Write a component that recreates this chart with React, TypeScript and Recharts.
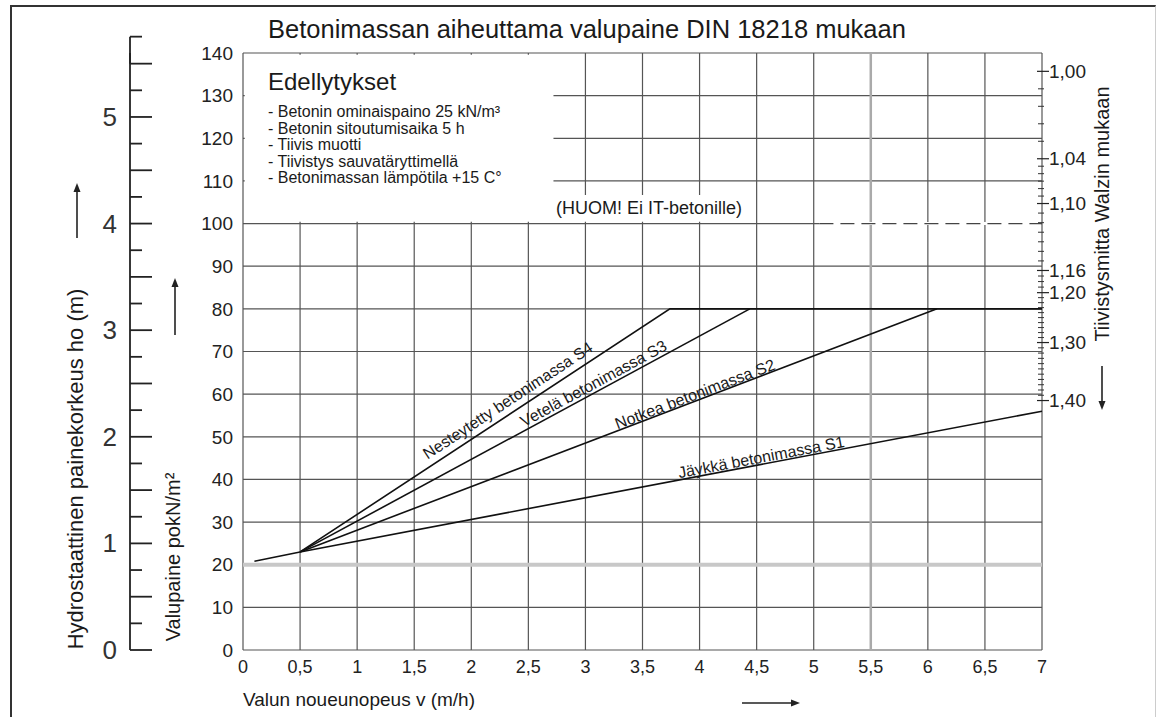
import { LineChart, Line, XAxis, YAxis, CartesianGrid, ReferenceArea, ReferenceLine, ReferenceDot } from 'recharts';

const FONT = '"Liberation Sans", Arial, sans-serif';

// x-akseli: valun nousunopeus (m/h)
const speedTicks = [0, 0.5, 1, 1.5, 2, 2.5, 3, 3.5, 4, 4.5, 5, 5.5, 6, 6.5, 7];
const speedLabels = ['0', '0,5', '1', '1,5', '2', '2,5', '3', '3,5', '4', '4,5', '5', '5,5', '6', '6,5', '7'];

// y-akseli: valupaine kN/m2
const pressureTicks = [0, 10, 20, 30, 40, 50, 60, 70, 80, 90, 100, 110, 120, 130, 140];

// hydrostaattinen painekorkeus (m), 25 kN/m3 -> 140 kN/m2 = 5,6 m
const heightTicks = [0, 0.25, 0.5, 0.75, 1, 1.25, 1.5, 1.75, 2, 2.25, 2.5, 2.75, 3, 3.25, 3.5, 3.75, 4, 4.25, 4.5, 4.75, 5, 5.25, 5.5];

// Walzin tiivistysmitta (oikea asteikko), sijainti painearvona
const walzLabels = ['1,00', '1,04', '1,10', '1,16', '1,20', '1,30', '1,40'];
const walzAt = [135.7, 115.2, 104.7, 89, 83.8, 72.1, 58.5];
const walzMinorCount = [4, 5, 6, 3, 9, 10];

// käyrät
const baseSpeed = [0.1, 0.5];
const basePressure = [20.8, 23];
const s1Speed = [0.5, 7];
const s1Pressure = [23, 56];
const s2Speed = [0.5, 6.08];
const s2Pressure = [23, 80];
const s3Speed = [0.5, 4.44];
const s3Pressure = [23, 80];
const s4Speed = [0.5, 3.74, 7];
const s4Pressure = [23, 80, 80];

const seriesNames = ['Jäykkä betonimassa S1', 'Notkea betonimassa S2', 'Vetelä betonimassa S3', 'Nesteytetty betonimassa S4'];
const labelSpeed = [4.54, 3.96, 3.07, 2.32];
const labelPressure = [45.2, 60.0, 62.5, 58.5];
const labelAngle = [10.7, 20.9, 28.4, 33.3];

const conditions = [
  '- Betonin ominaispaino 25 kN/m³',
  '- Betonin sitoutumisaika 5 h',
  '- Tiivis muotti',
  '- Tiivistys sauvatäryttimellä',
  '- Betonimassan lämpötila +15 C°',
];

const toRows = (xs: number[], ys: number[]) => xs.map((v, i) => ({ v, p: ys[i] }));

const baseRows = toRows(baseSpeed, basePressure);
const seriesRows = [
  toRows(s1Speed, s1Pressure),
  toRows(s2Speed, s2Pressure),
  toRows(s3Speed, s3Pressure),
  toRows(s4Speed, s4Pressure),
];

const walzTicks: number[] = [];
walzAt.forEach((p, i) => {
  walzTicks.push(p);
  if (i < walzMinorCount.length) {
    const n = walzMinorCount[i];
    for (let k = 1; k <= n; k++) walzTicks.push(p + ((walzAt[i + 1] - p) * k) / (n + 1));
  }
});

function HeightTick(props: any) {
  const { x, y, payload } = props;
  const v = payload.value;
  const half = Math.abs(v * 2 - Math.round(v * 2)) < 1e-6;
  const whole = Number.isInteger(v);
  const last = v === heightTicks[heightTicks.length - 1];
  return (
    <g>
      <line x1={x} x2={x + (half ? 22 : 12)} y1={y} y2={y} stroke="#222" strokeWidth={1.8} />
      {last && <line x1={x} x2={x} y1={y} y2={y - 27} stroke="#222" strokeWidth={1.8} />}
      {last && <line x1={x} x2={x + 12} y1={y - 27} y2={y - 27} stroke="#222" strokeWidth={1.8} />}
      {whole && (
        <text x={x - 13} y={y} textAnchor="end" dominantBaseline="central" fontSize={26} fill="#333" fontFamily={FONT}>
          {v}
        </text>
      )}
    </g>
  );
}

function WalzTick(props: any) {
  const { x, y, payload } = props;
  const i = walzAt.indexOf(payload.value);
  if (i >= 0) {
    return (
      <g>
        <line x1={x - 5} x2={x + 7} y1={y} y2={y} stroke="#222" strokeWidth={1.2} />
        <text x={x + 7} y={y} dominantBaseline="central" fontSize={19} fill="#222" fontFamily={FONT}>
          {walzLabels[i]}
        </text>
      </g>
    );
  }
  return <line x1={x - 4} x2={x + 2} y1={y} y2={y} stroke="#333" strokeWidth={1} />;
}

function slopeLabel(text: string, angle: number) {
  return (props: any) => {
    const vb = props.viewBox || {};
    const cx = vb.x + (vb.width || 0) / 2;
    const cy = vb.y + (vb.height || 0) / 2;
    return (
      <text x={cx} y={cy} transform={`rotate(${-angle} ${cx} ${cy})`} textAnchor="middle" dominantBaseline="central" fontSize={16} fill="#1a1a1a" fontFamily={FONT}>
        {text}
      </text>
    );
  };
}

const slopeLabels = seriesNames.map((n, i) => slopeLabel(n, labelAngle[i]));

function Arrow({ x1, y1, x2, y2 }: { x1: number; y1: number; x2: number; y2: number }) {
  const a = Math.atan2(y2 - y1, x2 - x1);
  const l = 9;
  const w = 3.5;
  const bx = x2 - l * Math.cos(a);
  const by = y2 - l * Math.sin(a);
  const pts = `${x2},${y2} ${bx - w * Math.sin(a)},${by + w * Math.cos(a)} ${bx + w * Math.sin(a)},${by - w * Math.cos(a)}`;
  return (
    <g>
      <line x1={x1} y1={y1} x2={bx} y2={by} stroke="#222" strokeWidth={1.6} />
      <polygon points={pts} fill="#222" />
    </g>
  );
}

const rotated = (cx: number, cy: number, size: number, text: string) => (
  <div
    style={{
      position: 'absolute',
      left: cx,
      top: cy,
      transform: 'translate(-50%, -50%) rotate(-90deg)',
      fontSize: size,
      lineHeight: 1,
      whiteSpace: 'nowrap',
      color: '#1a1a1a',
    }}
  >
    {text}
  </div>
);

// vakiot akseleille, jotta asetukset eivät vaihdu joka renderöinnillä
const chartMargin = { top: 53, right: 47, bottom: 37, left: 30 };
const speedTick = { fontSize: 18, fill: '#222', fontFamily: FONT };
const pressureTick = { fontSize: 19, fill: '#222', fontFamily: FONT };
const speedFormat = (v: number) => speedLabels[speedTicks.indexOf(v)];
const heightTickEl = <HeightTick />;
const walzTickEl = <WalzTick />;
const heightAxisLine = { stroke: '#222', strokeWidth: 1.8 };
const speedDomain = [0, 7];
const pressureDomain = [0, 140];
const heightDomain = [0, 5.6];

export default function App() {
  return (
    <div style={{ position: 'absolute', left: 0, top: 0, width: 1169, height: 717, overflow: 'hidden', background: '#fff', fontFamily: FONT }}>
      <div style={{ position: 'absolute', left: 10, top: 5, width: 1143, height: 740, borderTop: '2px solid #333', borderLeft: '2px solid #333', borderRight: '1px solid #ccc' }} />

      <LineChart width={1169} height={717} margin={chartMargin}>
        <CartesianGrid yAxisId="p" stroke="#555" strokeWidth={1.2} />
        <XAxis
          type="number"
          dataKey="v"
          domain={speedDomain}
          ticks={speedTicks}
          interval={0}
          tickFormatter={speedFormat}
          axisLine={false}
          tickLine={false}
          tickSize={0}
          tickMargin={10}
          height={30}
          tick={speedTick}
        />
        {/* painekorkeus uloimpana vasemmalla */}
        <YAxis
          yAxisId="ph"
          type="number"
          domain={heightDomain}
          allowDataOverflow
          ticks={heightTicks}
          interval={0}
          axisLine={heightAxisLine}
          tickLine={false}
          tickSize={0}
          tickMargin={0}
          width={100}
          tick={heightTickEl}
        />
        <YAxis
          yAxisId="p"
          type="number"
          domain={pressureDomain}
          ticks={pressureTicks}
          interval={0}
          axisLine={false}
          tickLine={false}
          tickSize={0}
          tickMargin={10}
          width={113}
          tick={pressureTick}
        />
        <YAxis
          yAxisId="w"
          orientation="right"
          type="number"
          domain={pressureDomain}
          allowDataOverflow
          ticks={walzTicks}
          interval={0}
          axisLine={false}
          tickLine={false}
          tickSize={0}
          tickMargin={0}
          width={80}
          tick={walzTickEl}
        />

        <ReferenceLine yAxisId="p" y={20} stroke="#c8c8c8" strokeWidth={4} />
        <ReferenceLine yAxisId="p" x={5.5} stroke="#aaa" strokeWidth={2.5} />
        <ReferenceArea yAxisId="p" x1={0.015} x2={2.72} y1={100.4} y2={139.6} fill="#fff" fillOpacity={1} stroke="none" />
        <ReferenceArea yAxisId="p" x1={2.72} x2={4.42} y1={100.4} y2={106.7} fill="#fff" fillOpacity={1} stroke="none" />
        <ReferenceLine yAxisId="p" segment={[{ x: 5.05, y: 100 }, { x: 6.99, y: 100 }]} stroke="#fff" strokeWidth={3} />
        <ReferenceLine yAxisId="p" segment={[{ x: 5.05, y: 100 }, { x: 7, y: 100 }]} stroke="#444" strokeWidth={1.2} strokeDasharray="14 7" />

        <Line yAxisId="p" data={baseRows} dataKey="p" stroke="#111" strokeWidth={1.6} dot={false} isAnimationActive={false} />
        {seriesRows.map((rows, i) => (
          <Line key={seriesNames[i]} yAxisId="p" data={rows} dataKey="p" name={seriesNames[i]} stroke="#111" strokeWidth={1.6} dot={false} isAnimationActive={false} />
        ))}

        {seriesNames.map((name, i) => (
          <ReferenceDot key={`lbl-${name}`} yAxisId="p" x={labelSpeed[i]} y={labelPressure[i]} r={0} stroke="none" fill="none" label={slopeLabels[i]} />
        ))}
      </LineChart>

      <div style={{ position: 'absolute', left: 268, top: 17, fontSize: 25.5, lineHeight: 1, whiteSpace: 'nowrap', color: '#1a1a1a' }}>
        Betonimassan aiheuttama valupaine DIN 18218 mukaan
      </div>

      <div style={{ position: 'absolute', left: 268, top: 70, fontSize: 24, lineHeight: 1, whiteSpace: 'nowrap', color: '#1a1a1a' }}>Edellytykset</div>
      <div style={{ position: 'absolute', left: 268, top: 104, fontSize: 16, lineHeight: '16.5px', whiteSpace: 'nowrap', color: '#1a1a1a' }}>
        {conditions.map((c) => (
          <div key={c}>{c}</div>
        ))}
      </div>

      <div style={{ position: 'absolute', left: 649, top: 208, transform: 'translate(-50%, -50%)', fontSize: 18, lineHeight: 1, whiteSpace: 'nowrap', color: '#1a1a1a' }}>
        (HUOM! Ei IT-betonille)
      </div>

      <div style={{ position: 'absolute', left: 243, top: 690, fontSize: 19, lineHeight: 1, whiteSpace: 'nowrap', color: '#1a1a1a' }}>
        Valun noueunopeus v (m/h)
      </div>

      {rotated(76, 469, 22, 'Hydrostaattinen painekorkeus ho (m)')}
      {rotated(173, 557, 20, 'Valupaine pokN/m²')}
      {rotated(1102, 214, 20, 'Tiivistysmitta Walzin mukaan')}

      <svg style={{ position: 'absolute', left: 0, top: 0, pointerEvents: 'none' }} width={1169} height={717}>
        <Arrow x1={77} y1={238} x2={77} y2={183} />
        <Arrow x1={175} y1={335} x2={175} y2={278} />
        <Arrow x1={742} y1={703} x2={800} y2={703} />
        <Arrow x1={1102} y1={366} x2={1102} y2={410} />
      </svg>
    </div>
  );
}
